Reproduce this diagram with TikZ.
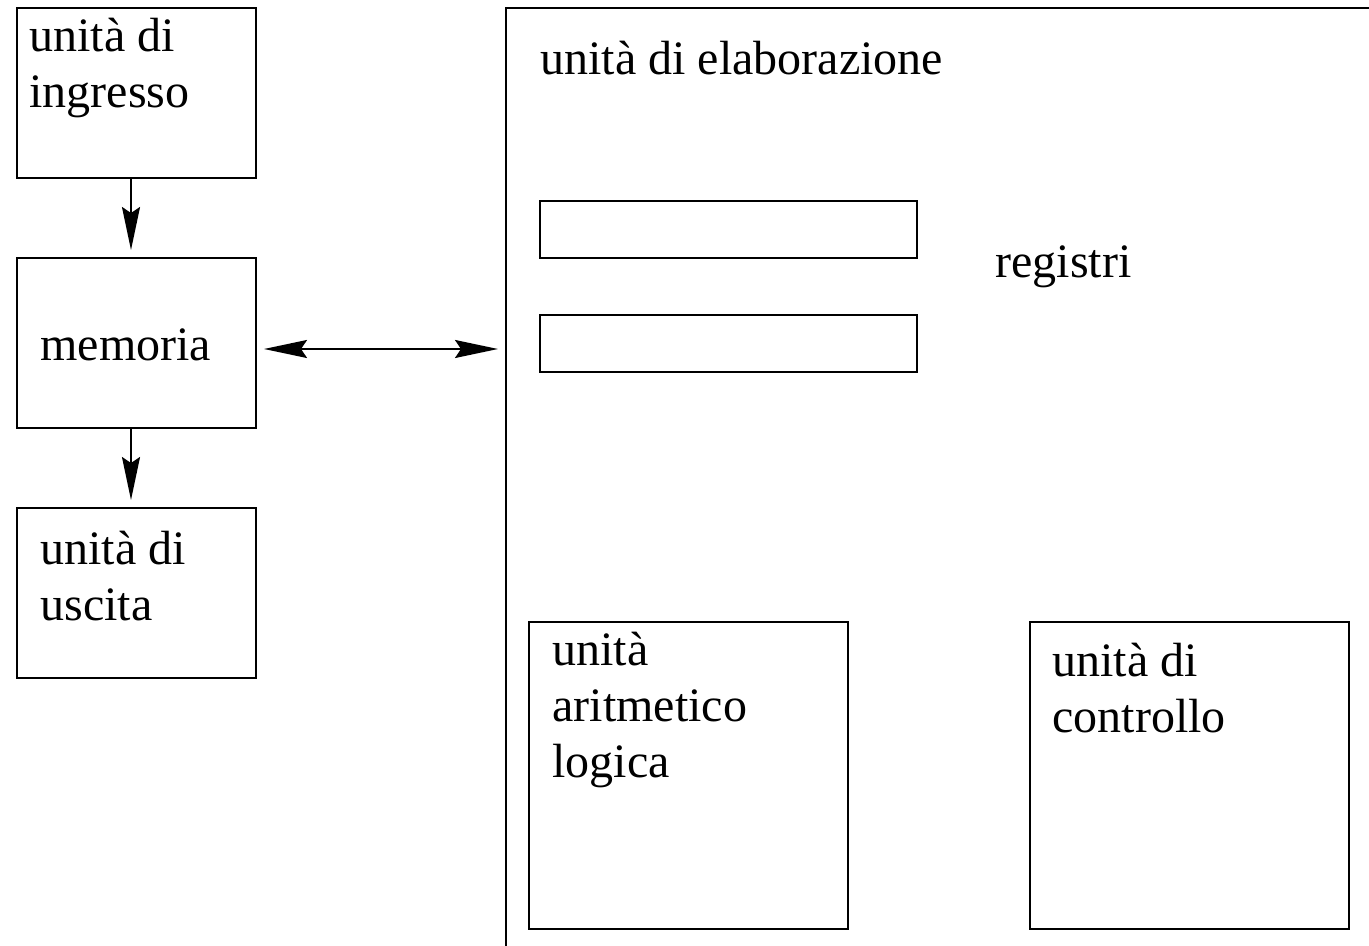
\documentclass[tikz,border=0pt]{standalone}
\usepackage{fontspec}
\setmainfont{Liberation Serif}
\usetikzlibrary{arrows.meta}
\tikzset{%
  unit/.style={rectangle, draw, line width=1pt, anchor=north west, inner sep=0pt},
  smallunit/.style={unit, minimum width=119.5pt, minimum height=85pt},
  bigunit/.style={unit, minimum width=159.5pt, minimum height=153.5pt},
  regblock/.style={unit, minimum width=188.5pt, minimum height=28.5pt},
  caption/.style={anchor=base west, inner sep=0pt, align=left, font=\fontsize{24}{28}\selectfont},
  line/.style={draw, line width=1pt, -{Stealth[length=21.5pt, width=9pt, inset=3pt]}, shorten >=3.5pt},
  dline/.style={draw, line width=1pt, {Stealth[length=21.5pt, width=9pt, inset=3pt]}-{Stealth[length=21.5pt, width=9pt, inset=3pt]}, shorten <=3.5pt, shorten >=3.5pt}}

\begin{document}
\begin{tikzpicture}[x=0.5pt, y=-0.5pt]
    \useasboundingbox (0,0) rectangle (1369,946);
    \clip (0,0) rectangle (1369,946);
    % left column: input, memory, output
    % (multi-line captions sit on the baseline of their last line)
    \node [smallunit] (ingresso) at (16,7) {};
    \node [smallunit] (memoria) at (16,257) {};
    \node [smallunit] (uscita) at (16,507) {};
    \node [caption] (ingressotxt) at (29,108) {unità di\\ingresso};
    \node [caption] (memoriatxt) at (40,360) {memoria};
    \node [caption] (uscitatxt) at (40,620) {unità di\\uscita};
    % processing unit, open to the right and bottom
    \node [unit, minimum width=600pt, minimum height=600pt] (elab) at (505,7) {};
    \node [caption] (elabtxt) at (540,75) {unità di elaborazione};
    \node [regblock] (reg1) at (539,200) {};
    \node [regblock] (reg2) at (539,314) {};
    \node [caption] (registri) at (995,278) {registri};
    \node [bigunit] (alu) at (528,621) {};
    \node [bigunit] (cu) at (1029,621) {};
    \node [caption] (alutxt) at (552,777) {unità\\aritmetico\\logica};
    \node [caption] (cutxt) at (1052,732) {unità di\\controllo};
    % connectors
    \draw [line] ([xshift=-2.75pt]ingresso.south) -- ([xshift=-2.75pt]memoria.north);
    \draw [line] ([xshift=-2.75pt]memoria.south) -- ([xshift=-2.75pt]uscita.north);
    \draw [dline] ([yshift=-3pt]memoria.east) -- ([yshift=-3pt]memoria.east -| elab.west);
\end{tikzpicture}
\end{document}
